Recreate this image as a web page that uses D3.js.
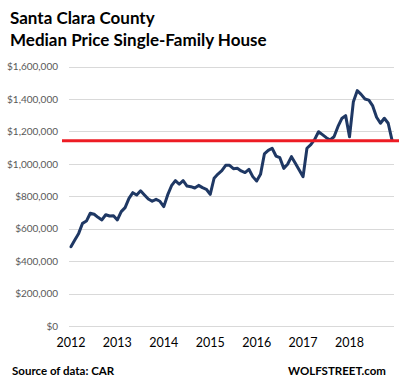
<!DOCTYPE html>
<html>
<head>
<meta charset="utf-8">
<script src="https://cdn.jsdelivr.net/npm/d3@7"></script>
<style>
  html, body { margin: 0; padding: 0; background: #fff; }
  svg { display: block; }
</style>
</head>
<body>
<svg id="chart" width="399" height="385"></svg>
<script>
// ---- Data ----
const titleLines = ["Santa Clara County", "Median Price Single-Family House"];
const years = [2012, 2013, 2014, 2015, 2016, 2017, 2018];
const months = [];
years.forEach(y => { for (let m = 1; m <= 12; m++) months.push(y + "-" + String(m).padStart(2, "0")); });
const prices = [
  489000, 530000, 571000, 633000, 647000, 695000, 689000, 670000, 654000, 686000, 678000, 680000,
  654000, 705000, 730000, 787000, 822000, 808000, 834000, 808000, 783000, 769000, 781000, 769000,
  736000, 808000, 865000, 896000, 874000, 896000, 863000, 859000, 851000, 867000, 853000, 843000,
  812000, 911000, 937000, 958000, 991000, 991000, 970000, 972000, 956000, 946000, 966000, 921000,
  894000, 935000, 1061000, 1083000, 1096000, 1048000, 1038000, 972000, 997000, 1044000, 1003000, 962000,
  921000, 1096000, 1118000, 1151000, 1198000, 1180000, 1161000, 1147000, 1167000, 1229000, 1279000, 1297000,
  1167000, 1383000, 1451000, 1428000, 1400000, 1393000, 1357000, 1287000, 1250000, 1281000, 1250000, 1145000
];
const yTicks = [0, 200000, 400000, 600000, 800000, 1000000, 1200000, 1400000, 1600000];
const referenceLevel = 1142000;
const sourceText = "Source of data: CAR";
const brandText = "WOLFSTREET.com";

// ---- Layout ----
const svg = d3.select("#chart");
const plot = { left: 69, right: 394, top: 66.5, bottom: 326 };
const font = "Lato, 'Open Sans', sans-serif";

const x = d3.scaleBand().domain(months).range([plot.left, plot.right]);
const y = d3.scaleLinear().domain([0, 1600000]).range([plot.bottom, plot.top]);

// Title
svg.append("g").selectAll("text").data(titleLines).join("text")
  .attr("x", 10).attr("y", (d, i) => 24 + i * 22)
  .attr("font-family", font).attr("font-weight", "bold").attr("font-size", 17)
  .attr("fill", "#000").text(d => d);

// Gridlines
svg.append("g").selectAll("line").data(yTicks).join("line")
  .attr("x1", plot.left).attr("x2", plot.right)
  .attr("y1", d => Math.round(y(d)) + 0.5).attr("y2", d => Math.round(y(d)) + 0.5)
  .attr("stroke", "#d9d9d9").attr("stroke-width", 1);

// Y axis labels
const yAxis = d3.axisLeft(y).tickValues(yTicks).tickSize(0).tickPadding(0)
  .tickFormat(d => "$" + d3.format(",")(d));
const gy = svg.append("g").attr("transform", `translate(58,0)`).call(yAxis);
gy.select(".domain").remove();
gy.selectAll("text").attr("font-family", font).attr("font-size", 10).attr("fill", "#595959");

// X axis labels
const yearLabels = years.map(yr => yr + "-01");
const xAxis = d3.axisBottom(x).tickValues(yearLabels).tickSize(0).tickPadding(0)
  .tickFormat(d => d.slice(0, 4));
const gx = svg.append("g").attr("transform", `translate(0,338)`).call(xAxis);
gx.select(".domain").remove();
gx.selectAll("text").attr("font-family", font).attr("font-size", 12.5).attr("fill", "#000");

// Price line
const line = d3.line()
  .x((d, i) => x(months[i]) + x.bandwidth() / 2)
  .y(d => y(d));
svg.append("path").datum(prices)
  .attr("d", line).attr("fill", "none")
  .attr("stroke", "#1f3864").attr("stroke-width", 3)
  .attr("stroke-linejoin", "round").attr("stroke-linecap", "round");

// Red reference line
svg.append("line")
  .attr("x1", 62).attr("x2", 399)
  .attr("y1", y(referenceLevel)).attr("y2", y(referenceLevel))
  .attr("stroke", "#ed1c24").attr("stroke-width", 3);

// Footer
svg.append("text").attr("x", 12).attr("y", 375)
  .attr("font-family", font).attr("font-weight", "bold").attr("font-size", 11.5)
  .attr("fill", "#000").text(sourceText);
svg.append("text").attr("x", 386).attr("y", 375).attr("text-anchor", "end")
  .attr("font-family", font).attr("font-weight", "bold").attr("font-size", 11.5)
  .attr("fill", "#000").text(brandText);
</script>
</body>
</html>
